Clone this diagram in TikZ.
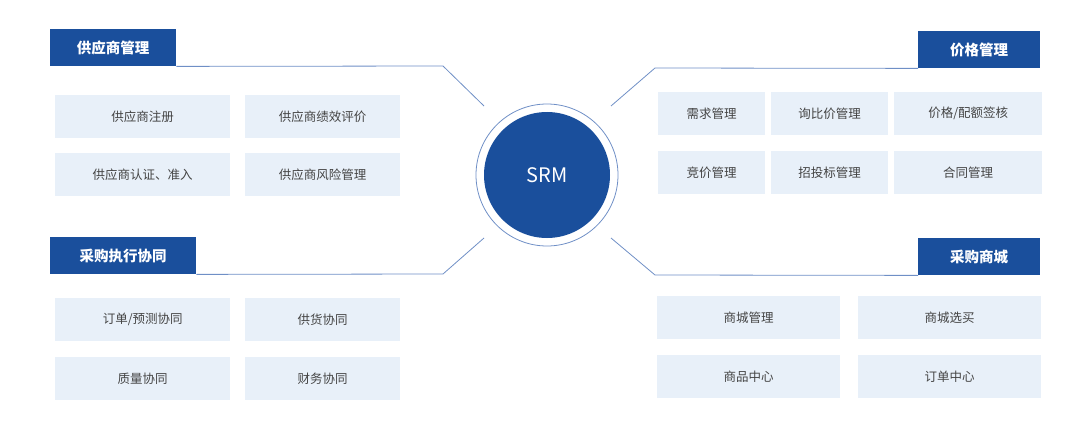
\documentclass[tikz,border=0pt]{standalone}
\usepackage{fontspec}
\setmainfont{Noto Sans CJK SC}
\begin{document}
\begin{tikzpicture}[x=1pt,y=-1pt,
 item/.style={fill=boxbg,draw=none,text=txt,font=\fontsize{12.5}{14}\selectfont,inner sep=0,anchor=north west},
 head/.style={fill=hblue,draw=none,text=white,font=\bfseries\fontsize{14.5}{16}\selectfont,inner sep=0,anchor=north west},
 conn/.style={draw=lblue,line width=0.8pt}]
\definecolor{boxbg}{HTML}{E8F0F9}
\definecolor{txt}{HTML}{444444}
\definecolor{hblue}{HTML}{1A4F9C}
\definecolor{lblue}{HTML}{6F8FC6}
\useasboundingbox (0,0) rectangle (1080,436);
% center
\node[circle,draw=lblue,line width=0.8pt,minimum size=142pt,inner sep=0] (ring) at (547,175) {};
\node[circle,fill=hblue,minimum size=126pt,inner sep=0,text=white,font=\fontsize{20}{22}\selectfont] (srm) at (547,175) {SRM};
% headers
\node[head,minimum width=126pt,minimum height=37pt] (h1) at (50,29) {供应商管理};
\node[head,minimum width=122pt,minimum height=37pt] (h2) at (918,31) {价格管理};
\node[head,minimum width=146pt,minimum height=37pt] (h3) at (50,237) {采购执行协同};
\node[head,minimum width=122pt,minimum height=37pt] (h4) at (918,238) {采购商城};
% connectors
\coordinate (a1) at (484,106); \coordinate (b1) at (443,66);
\draw[conn] (h1.south east) -- (b1) -- (a1);
\coordinate (a2) at (611,106); \coordinate (b2) at (655,68);
\draw[conn] (h2.south west) -- (b2) -- (a2);
\coordinate (a3) at (484,238); \coordinate (b3) at (443,274);
\draw[conn] (h3.south east) -- (b3) -- (a3);
\coordinate (a4) at (611,238); \coordinate (b4) at (655,275);
\draw[conn] (h4.south west) -- (b4) -- (a4);
% left top
\node[item,minimum width=175pt,minimum height=43pt] (l1) at (55,95) {供应商注册};
\node[item,minimum width=155pt,minimum height=43pt] (l2) at (245,95) {供应商绩效评价};
\node[item,minimum width=175pt,minimum height=43pt] (l3) at (55,153) {供应商认证、准入};
\node[item,minimum width=155pt,minimum height=43pt] (l4) at (245,153) {供应商风险管理};
% left bottom
\node[item,minimum width=175pt,minimum height=43pt] (m1) at (55,298) {订单/预测协同};
\node[item,minimum width=155pt,minimum height=43pt] (m2) at (245,298) {供货协同};
\node[item,minimum width=175pt,minimum height=43pt] (m3) at (55,357) {质量协同};
\node[item,minimum width=155pt,minimum height=43pt] (m4) at (245,357) {财务协同};
% right top
\node[item,minimum width=107pt,minimum height=43pt] (r1) at (658,92) {需求管理};
\node[item,minimum width=117pt,minimum height=43pt] (r2) at (771,92) {询比价管理};
\node[item,minimum width=148pt,minimum height=43pt] (r3) at (894,92) {价格/配额签核};
\node[item,minimum width=107pt,minimum height=43pt] (r4) at (658,151) {竞价管理};
\node[item,minimum width=117pt,minimum height=43pt] (r5) at (771,151) {招投标管理};
\node[item,minimum width=148pt,minimum height=43pt] (r6) at (894,151) {合同管理};
% right bottom
\node[item,minimum width=183pt,minimum height=43pt] (s1) at (657,296) {商城管理};
\node[item,minimum width=183pt,minimum height=43pt] (s2) at (858,296) {商城选买};
\node[item,minimum width=183pt,minimum height=43pt] (s3) at (657,355) {商品中心};
\node[item,minimum width=183pt,minimum height=43pt] (s4) at (858,355) {订单中心};
\end{tikzpicture}
\end{document}
